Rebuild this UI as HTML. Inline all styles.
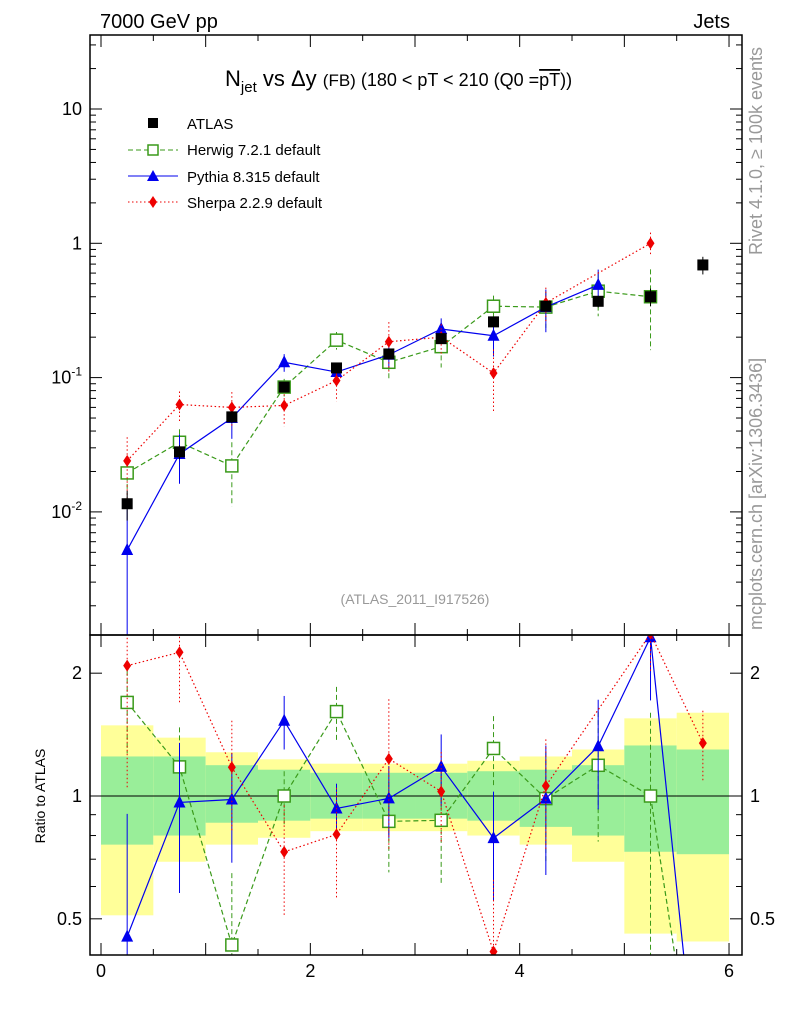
<!DOCTYPE html>
<html><head><meta charset="utf-8"><style>
html,body{margin:0;background:#fff;font-family:"Liberation Sans",sans-serif;overflow:hidden;width:786px;height:1024px}
svg{display:block}
svg text{font-family:"Liberation Sans",sans-serif}
</style></head><body>
<svg id="c" width="786" height="1024" viewBox="0 0 786 1024">
<text x="100" y="28" font-size="20">7000 GeV pp</text>
<text x="730" y="28" font-size="20" text-anchor="end">Jets</text>
<text x="762" y="255" font-size="18" fill="#999" transform="rotate(-90 762 255)">Rivet 4.1.0, ≥ 100k events</text>
<text x="762" y="630" font-size="18" fill="#999" transform="rotate(-90 762 630)">mcplots.cern.ch [arXiv:1306.3436]</text>
<text x="225" y="86" font-size="22">N<tspan font-size="15" dy="6">jet</tspan><tspan dy="-6"> vs Δy </tspan><tspan font-size="17">(FB)</tspan><tspan font-size="18"> (180 &lt; pT &lt; 210 (Q0 =</tspan><tspan font-size="18" text-decoration="overline">pT</tspan><tspan font-size="18">))</tspan></text>
<text x="415" y="604" font-size="14" fill="#999" text-anchor="middle">(ATLAS_2011_I917526)</text>
<text x="45" y="796" font-size="14" text-anchor="middle" transform="rotate(-90 45 796)">Ratio to ATLAS</text>
<g id="bands"></g><g id="marks"></g><g id="axes"></g>
<g>
<rect x="148" y="118" width="10" height="10" fill="#000"/>
<text x="187" y="129" font-size="15">ATLAS</text>
<line x1="128" y1="150" x2="178" y2="150" stroke="#3a9a1a" stroke-dasharray="5,3"/>
<rect x="148" y="145" width="10" height="10" fill="#fff" stroke="#3a9a1a" stroke-width="1.5"/>
<text x="187" y="155" font-size="15">Herwig 7.2.1 default</text>
<line x1="128" y1="176" x2="178" y2="176" stroke="#0000ee"/>
<path d="M153 170 L159 181 L147 181 Z" fill="#0000ee"/>
<text x="187" y="182" font-size="15">Pythia 8.315 default</text>
<line x1="128" y1="202" x2="178" y2="202" stroke="#ee0000" stroke-dasharray="1.5,2.5"/>
<path d="M153 196 L157 202 L153 208 L149 202 Z" fill="#ee0000"/>
<text x="187" y="208" font-size="15">Sherpa 2.2.9 default</text>
</g>
</svg>
<script>
const xCenters=[0.25,0.75,1.25,1.75,2.25,2.75,3.25,3.75,4.25,4.75,5.25,5.75];
const atlas=[0.0115,0.028,0.051,0.085,0.118,0.15,0.195,0.26,0.34,0.37,0.40,0.69];
const atlasErr=[0.25,0.12,0.1,0.08,0.07,0.06,0.06,0.07,0.08,0.1,0.15,0.15];
const herwig=[0.0195,0.033,0.022,0.085,0.19,0.13,0.17,0.34,0.335,0.44,0.40,0.1];
const herwigErr=[0.25,0.25,0.5,0.15,0.15,0.25,0.3,0.2,0.3,0.35,0.6,0.6];
const pythia=[0.0052,0.027,0.05,0.13,0.11,0.148,0.23,0.205,0.335,0.49,0.98,0.1];
const pythiaErr=[1.0,0.4,0.3,0.15,0.15,0.2,0.2,0.3,0.35,0.3,0.3,0.3];
const sherpa=[0.024,0.063,0.06,0.062,0.095,0.185,0.2,0.108,0.36,null,1.0,0.93];
const sherpaErr=[0.5,0.25,0.3,0.3,0.3,0.4,0.25,0.5,0.3,0.2,0.2,0.2];
const statLo=[0.76,0.80,0.86,0.87,0.88,0.88,0.88,0.87,0.84,0.80,0.73,0.72];
const statHi=[1.25,1.25,1.19,1.16,1.14,1.14,1.14,1.15,1.16,1.19,1.33,1.30];
const totLo=[0.51,0.69,0.76,0.79,0.82,0.82,0.82,0.80,0.76,0.69,0.46,0.44];
const totHi=[1.49,1.39,1.28,1.23,1.20,1.20,1.20,1.22,1.25,1.30,1.55,1.60];
const xTicks=[0,2,4,6];
const NS="http://www.w3.org/2000/svg";
const L=90,R=742,T=35,MB=635,B=955;
const X=v=>101+v*104.67;
const YM=v=>109-(Math.log10(v)-1)*134.3;
const YR=v=>796-Math.log10(v)*408;
function el(g,t,a,name){const e=document.createElementNS(NS,t);for(const k in a)e.setAttribute(k,a[k]);


document.getElementById(g).appendChild(e);return e;}
for(let i=0;i<xCenters.length;i++){
 const x0=X(xCenters[i]-0.25),x1=X(xCenters[i]+0.25);
 const yt=Math.max(MB,YR(totHi[i])),yb=Math.min(B,YR(totLo[i]));
 el('bands','rect',{x:x0,y:yt,width:x1-x0,height:yb-yt,fill:'#ffff99'},'total-band-'+i);
 el('bands','rect',{x:x0,y:YR(statHi[i]),width:x1-x0,height:YR(statLo[i])-YR(statHi[i]),fill:'#99ee99'},'stat-band-'+i);
}
el('marks','line',{x1:L,y1:YR(1),x2:R,y2:YR(1),stroke:'#000'},'ratio-unity-line');
const defs=el('marks','defs',{},'defs');
defs.innerHTML='<clipPath id="cm"><rect x="'+L+'" y="'+T+'" width="'+(R-L)+'" height="'+(MB-T)+'"/></clipPath><clipPath id="cr"><rect x="'+L+'" y="'+MB+'" width="'+(R-L)+'" height="'+(B-MB)+'"/></clipPath>';
el('marks','g',{'clip-path':'url(#cm)',id:'gm'},'main-plot-area');
el('marks','g',{'clip-path':'url(#cr)',id:'gr'},'ratio-plot-area');
const series=[
 {n:'herwig',v:herwig,e:herwigErr,c:'#3a9a1a',d:'5,3',m:'sq',last:10},
 {n:'pythia',v:pythia,e:pythiaErr,c:'#0000ee',d:'',m:'tri',last:9},
 {n:'sherpa',v:sherpa,e:sherpaErr,c:'#ee0000',d:'1.5,2.5',m:'dia',last:10}];
function marker(g,m,x,y,c,name){
 if(m==='sq')el(g,'rect',{x:x-6,y:y-6,width:12,height:12,fill:'#fff',stroke:c,'stroke-width':1.5},name);
 else if(m==='tri')el(g,'path',{d:`M${x} ${y-7}L${x+6} ${y+5}L${x-6} ${y+5}Z`,fill:c},name);
 else el(g,'path',{d:`M${x} ${y-6}L${x+4} ${y}L${x} ${y+6}L${x-4} ${y}Z`,fill:c},name);
}
series.forEach(s=>{
 let p=[];for(let i=0;i<=s.last;i++)if(s.v[i]!=null)p.push(X(xCenters[i])+','+YM(s.v[i]));
 el('gm','polyline',{points:p.join(' '),fill:'none',stroke:s.c,'stroke-dasharray':s.d,'stroke-width':1.2},s.n+'-main-line');
 for(let i=0;i<=s.last;i++){if(s.v[i]==null)continue;const x=X(xCenters[i]);
  el('gm','line',{x1:x,x2:x,y1:YM(s.v[i]*(1+s.e[i])),y2:YM(Math.max(1e-4,s.v[i]*(1-s.e[i]))),stroke:s.c,'stroke-dasharray':s.d},s.n+'-main-err-'+i);
  marker('gm',s.m,x,YM(s.v[i]),s.c,s.n+'-main-point-'+i);}
 p=[];for(let i=0;i<xCenters.length;i++)if(s.v[i]!=null)p.push(X(xCenters[i])+','+YR(s.v[i]/atlas[i]));
 el('gr','polyline',{points:p.join(' '),fill:'none',stroke:s.c,'stroke-dasharray':s.d,'stroke-width':1.2},s.n+'-ratio-line');
 for(let i=0;i<xCenters.length;i++){if(s.v[i]==null)continue;const x=X(xCenters[i]),r=s.v[i]/atlas[i];
  el('gr','line',{x1:x,x2:x,y1:YR(r*(1+s.e[i])),y2:YR(Math.max(1e-3,r*(1-s.e[i]))),stroke:s.c,'stroke-dasharray':s.d},s.n+'-ratio-err-'+i);
  marker('gr',s.m,x,YR(r),s.c,s.n+'-ratio-point-'+i);}
});
for(let i=0;i<xCenters.length;i++){const x=X(xCenters[i]);
 el('gm','line',{x1:x,x2:x,y1:YM(atlas[i]*(1+atlasErr[i])),y2:YM(atlas[i]*(1-atlasErr[i])),stroke:'#000'},'atlas-err-'+i);
 el('gm','rect',{x:x-5.5,y:YM(atlas[i])-5.5,width:11,height:11,fill:'#000'},'atlas-point-'+i);}
el('axes','rect',{x:L,y:T,width:R-L,height:MB-T,fill:'none',stroke:'#000','stroke-width':1.5},'main-frame');
el('axes','rect',{x:L,y:MB,width:R-L,height:B-MB,fill:'none',stroke:'#000','stroke-width':1.5},'ratio-frame');
for(let d=-3;d<=1;d++){for(let k=1;k<10;k++){const v=k*Math.pow(10,d),y=YM(v);if(y<T||y>MB)continue;
 const w=k===1?12:6;
 el('axes','line',{x1:L,x2:L+w,y1:y,y2:y,stroke:'#000'},'y-tick');el('axes','line',{x1:R,x2:R-w,y1:y,y2:y,stroke:'#000'},'y-tick-right');}}
[[10,'10'],[1,'1']].forEach(([v,t])=>{const e=el('axes','text',{x:L-8,y:YM(v)+6,'font-size':18,'text-anchor':'end'},'y-tick-label');e.textContent=t;});
[[0.1,'-1'],[0.01,'-2']].forEach(([v,t])=>{const e=el('axes','text',{x:L-8,y:YM(v)+6,'font-size':18,'text-anchor':'end'},'y-tick-label');e.innerHTML='10<tspan font-size="12" dy="-8">'+t+'</tspan>';});
[0.5,0.6,0.7,0.8,0.9,1,2].forEach(v=>{const y=YR(v),w=(v===0.5||v===1||v===2)?12:6;
 el('axes','line',{x1:L,x2:L+w,y1:y,y2:y,stroke:'#000'},'ratio-y-tick');el('axes','line',{x1:R,x2:R-w,y1:y,y2:y,stroke:'#000'},'ratio-y-tick-right');
 if(w===12){const t=String(v);const a=el('axes','text',{x:L-8,y:y+6,'font-size':18,'text-anchor':'end'},'ratio-y-tick-label');a.textContent=t;
 const b=el('axes','text',{x:R+8,y:y+6,'font-size':18},'ratio-y-tick-label-right');b.textContent=t;}});
for(let v=0;v<=6.01;v+=0.5){const x=X(v),w=(Math.abs(v%1)<1e-6)?12:6;
 el('axes','line',{x1:x,x2:x,y1:B,y2:B-w,stroke:'#000'},'x-tick');el('axes','line',{x1:x,x2:x,y1:MB,y2:MB-w,stroke:'#000'},'x-tick-main');el('axes','line',{x1:x,x2:x,y1:T,y2:T+w,stroke:'#000'},'x-tick-top');el('axes','line',{x1:x,x2:x,y1:MB,y2:MB+w,stroke:'#000'},'x-tick-ratio-top');}
xTicks.forEach(v=>{const e=el('axes','text',{x:X(v),y:B+22,'font-size':18,'text-anchor':'middle'},'x-tick-label');e.textContent=v;});
</script>
</body></html>
